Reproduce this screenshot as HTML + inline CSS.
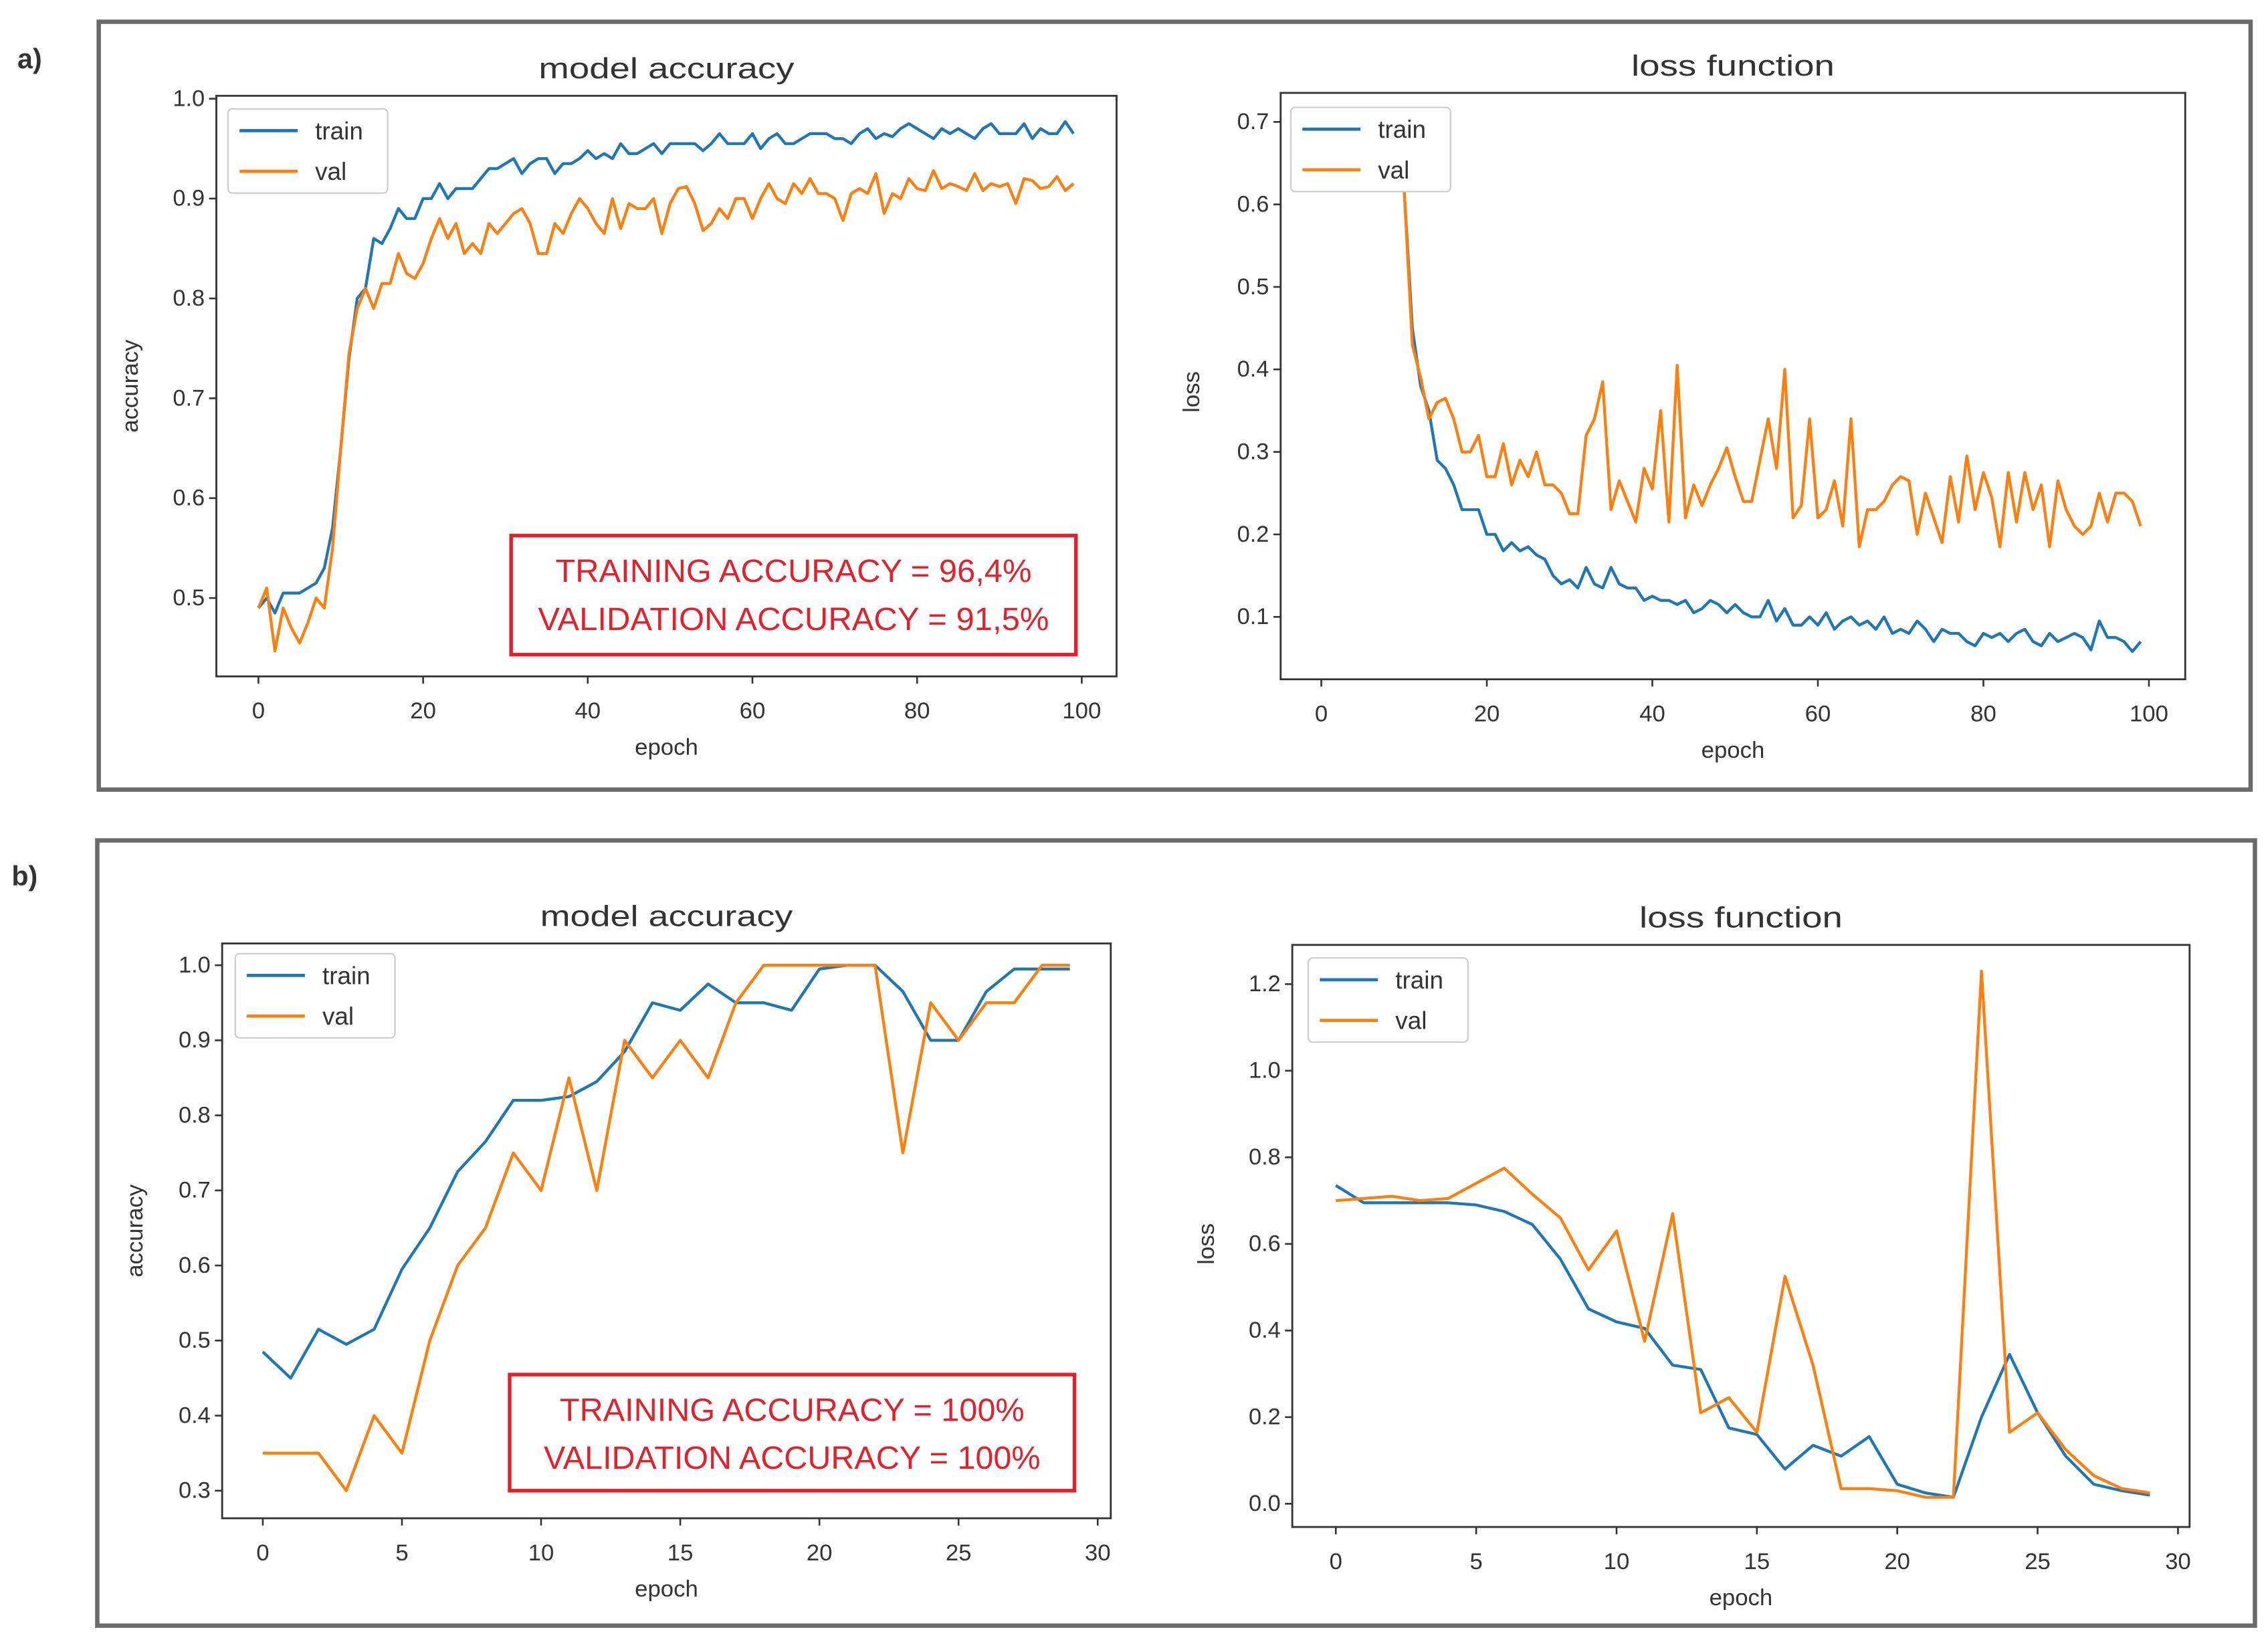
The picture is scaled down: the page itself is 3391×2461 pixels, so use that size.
<!DOCTYPE html>
<html><head><meta charset="utf-8"><style>
html,body{margin:0;padding:0;background:#fff;}
svg{display:block;}
text{font-family:"Liberation Sans",sans-serif;fill:#333;}
</style></head><body>
<svg id="fig" width="3391" height="2461" viewBox="0 0 1562 1134" preserveAspectRatio="none" xmlns="http://www.w3.org/2000/svg">
<rect x="68" y="15" width="1482" height="529" fill="none" stroke="#6a6a6a" stroke-width="3"/>
<rect x="67" y="579" width="1486" height="541" fill="none" stroke="#6a6a6a" stroke-width="3"/>
<text x="12" y="47" font-size="19" font-weight="bold" fill="#555">a)</text>
<text x="8" y="610" font-size="19" font-weight="bold" fill="#555">b)</text>
</svg>
<script>
// ---- data: panel a, model accuracy (epochs 0..99 by index)
const aAccTrain=[0.49,0.50,0.485,0.505,0.505,0.505,0.51,0.515,0.53,0.57,0.65,0.74,0.80,0.81,0.86,0.855,0.87,0.89,0.88,0.88,0.90,0.90,0.915,0.90,0.91,0.91,0.91,0.92,0.93,0.93,0.935,0.94,0.925,0.935,0.94,0.94,0.925,0.935,0.935,0.94,0.948,0.94,0.945,0.94,0.955,0.945,0.945,0.95,0.955,0.945,0.955,0.955,0.955,0.955,0.948,0.955,0.965,0.955,0.955,0.955,0.965,0.95,0.96,0.965,0.955,0.955,0.96,0.965,0.965,0.965,0.96,0.96,0.955,0.965,0.97,0.96,0.965,0.962,0.97,0.975,0.97,0.965,0.96,0.97,0.965,0.97,0.965,0.96,0.97,0.975,0.965,0.965,0.965,0.975,0.96,0.97,0.965,0.965,0.977,0.965];
const aAccVal=[0.49,0.51,0.447,0.49,0.47,0.455,0.475,0.50,0.49,0.55,0.65,0.745,0.79,0.81,0.79,0.815,0.815,0.845,0.825,0.82,0.835,0.86,0.88,0.86,0.875,0.845,0.855,0.845,0.875,0.865,0.875,0.885,0.89,0.875,0.845,0.845,0.875,0.865,0.885,0.90,0.89,0.875,0.865,0.90,0.87,0.895,0.89,0.89,0.90,0.865,0.895,0.91,0.912,0.895,0.868,0.875,0.89,0.88,0.90,0.90,0.88,0.90,0.915,0.90,0.895,0.915,0.905,0.92,0.905,0.905,0.90,0.878,0.905,0.91,0.905,0.925,0.885,0.905,0.90,0.92,0.91,0.908,0.928,0.91,0.915,0.912,0.908,0.925,0.908,0.915,0.912,0.915,0.895,0.92,0.918,0.91,0.912,0.922,0.908,0.915];
// ---- data: panel a, loss
const aLossTrain=[0.693,0.693,0.693,0.693,0.693,0.693,0.693,0.693,0.693,0.693,0.62,0.45,0.38,0.35,0.29,0.28,0.26,0.23,0.23,0.23,0.20,0.20,0.18,0.19,0.18,0.185,0.175,0.17,0.15,0.14,0.145,0.135,0.16,0.14,0.135,0.16,0.14,0.135,0.135,0.12,0.125,0.12,0.12,0.115,0.12,0.105,0.11,0.12,0.115,0.105,0.115,0.105,0.10,0.10,0.12,0.095,0.11,0.09,0.09,0.10,0.09,0.105,0.085,0.095,0.10,0.09,0.095,0.085,0.10,0.08,0.085,0.08,0.095,0.085,0.07,0.085,0.08,0.08,0.07,0.065,0.08,0.075,0.08,0.07,0.08,0.085,0.07,0.065,0.08,0.07,0.075,0.08,0.075,0.06,0.095,0.075,0.075,0.07,0.058,0.07];
const aLossVal=[0.70,0.70,0.70,0.70,0.70,0.70,0.70,0.70,0.70,0.70,0.62,0.43,0.39,0.34,0.36,0.365,0.34,0.30,0.30,0.32,0.27,0.27,0.31,0.26,0.29,0.27,0.30,0.26,0.26,0.25,0.225,0.225,0.32,0.34,0.385,0.23,0.265,0.24,0.215,0.28,0.255,0.35,0.215,0.405,0.22,0.26,0.235,0.26,0.28,0.305,0.27,0.24,0.24,0.29,0.34,0.28,0.40,0.22,0.235,0.34,0.22,0.23,0.265,0.21,0.34,0.185,0.23,0.23,0.24,0.26,0.27,0.265,0.20,0.25,0.22,0.19,0.27,0.215,0.295,0.23,0.275,0.245,0.185,0.275,0.215,0.275,0.23,0.26,0.185,0.265,0.23,0.21,0.20,0.21,0.25,0.215,0.25,0.25,0.24,0.21];
// ---- data: panel b (epochs 0..29 by index)
const bAccTrain=[0.485,0.45,0.515,0.495,0.515,0.595,0.65,0.725,0.765,0.82,0.82,0.825,0.845,0.885,0.95,0.94,0.975,0.95,0.95,0.94,0.995,1.0,1.0,0.965,0.90,0.90,0.965,0.995,0.995,0.995];
const bAccVal=[0.35,0.35,0.35,0.30,0.40,0.35,0.50,0.60,0.65,0.75,0.70,0.85,0.70,0.90,0.85,0.90,0.85,0.95,1.0,1.0,1.0,1.0,1.0,0.75,0.95,0.90,0.95,0.95,1.0,1.0];
const bLossTrain=[0.735,0.695,0.695,0.695,0.695,0.69,0.675,0.645,0.565,0.45,0.42,0.405,0.32,0.31,0.175,0.16,0.08,0.135,0.11,0.155,0.045,0.025,0.015,0.2,0.345,0.21,0.11,0.045,0.03,0.02];
const bLossVal=[0.70,0.705,0.71,0.70,0.705,0.74,0.775,0.715,0.66,0.54,0.63,0.375,0.67,0.21,0.245,0.165,0.525,0.32,0.035,0.035,0.03,0.015,0.015,1.23,0.165,0.21,0.125,0.065,0.035,0.025];
// ---- tick labels
const aAccYTicks=[0.5,0.6,0.7,0.8,0.9,1.0];
const aLossYTicks=[0.1,0.2,0.3,0.4,0.5,0.6,0.7];
const aXTicks=[0,20,40,60,80,100];
const bAccYTicks=[0.3,0.4,0.5,0.6,0.7,0.8,0.9,1.0];
const bLossYTicks=[0.0,0.2,0.4,0.6,0.8,1.0,1.2];
const bXTicks=[0,5,10,15,20,25,30];

const NS="http://www.w3.org/2000/svg";
const svg=document.getElementById('fig');
function mk(tag,attrs,parent){const e=document.createElementNS(NS,tag);for(const k in attrs)e.setAttribute(k,attrs[k]);(parent||svg).appendChild(e);return e;}

function chart(c){
  const g=mk('g',{});
  
  
  const sx=v=>c.x0px+(v-c.x0v)*(c.x1px-c.x0px)/(c.x1v-c.x0v);
  const sy=v=>c.y0px+(v-c.y0v)*(c.y1px-c.y0px)/(c.y1v-c.y0v);
  const t=mk('text',{x:(c.L+c.R)/2,y:c.T-12,'font-size':20,'text-anchor':'middle',textLength:c.titleW,lengthAdjust:'spacingAndGlyphs'},g);
  t.textContent=c.title;
  
  
  const cid='clip'+c.name;
  const cp=mk('clipPath',{id:cid},g);mk('rect',{x:c.L,y:c.T,width:c.R-c.L,height:c.B-c.T},cp);
  const series=[[c.train,'#1f77b4','train-line'],[c.val,'#ff7f0e','val-line']];
  for(const s of series){
    const d=s[0].map((v,i)=>(i?'L':'M')+sx(i).toFixed(2)+' '+sy(v).toFixed(2)).join(' ');
    const p=mk('path',{d:d,fill:'none',stroke:s[1],'stroke-width':2,'stroke-linejoin':'round','clip-path':'url(#'+cid+')'},g);
    
    
  }
  const f=mk('rect',{x:c.L,y:c.T,width:c.R-c.L,height:c.B-c.T,fill:'none',stroke:'#333','stroke-width':1.3},g);
  
  
  for(const v of c.yTicks){
    const y=sy(v);
    mk('line',{x1:c.L-5,x2:c.L,y1:y,y2:y,stroke:'#333','stroke-width':1.2},g);
    const tl=mk('text',{x:c.L-8,y:y+5,'font-size':16,'text-anchor':'end',textLength:c.yLabW,lengthAdjust:'spacingAndGlyphs'},g);
    tl.textContent=v.toFixed(1);
    
    
  }
  for(const v of c.xTicks){
    const x=sx(v);
    mk('line',{x1:x,x2:x,y1:c.B,y2:c.B+5,stroke:'#333','stroke-width':1.2},g);
    const tl=mk('text',{x:x,y:c.B+29,'font-size':16,'text-anchor':'middle'},g);
    tl.textContent=String(v);
    
    
  }
  const xl=mk('text',{x:(c.L+c.R)/2,y:c.B+54,'font-size':16,'text-anchor':'middle'},g);
  xl.textContent='epoch';
  
  
  const yl=mk('text',{x:0,y:0,'font-size':16,'text-anchor':'middle',transform:'translate('+c.ylabX+','+c.ylabY+') rotate(-90)'},g);
  yl.textContent=c.ylab;
  
  
  const lg=mk('g',{},g);
  
  
  mk('rect',{x:c.lgX,y:c.lgY,width:110,height:58,rx:3,fill:'#fff',stroke:'#ccc','stroke-width':1},lg);
  [['train','#1f77b4'],['val','#ff7f0e']].forEach((e,i)=>{
    const yy=c.lgY+15+i*28;
    mk('line',{x1:c.lgX+8,x2:c.lgX+48,y1:yy,y2:yy,stroke:e[1],'stroke-width':2.2},lg);
    const lt=mk('text',{x:c.lgX+60,y:yy+6,'font-size':17},lg);
    lt.textContent=e[0];
    
    
  });
  if(c.note){
    const nb=mk('g',{},g);
    
    
    mk('rect',{x:c.note.x,y:c.note.y,width:c.note.w,height:c.note.h,fill:'#fff',stroke:'#e3202c','stroke-width':2.5},nb);
    c.note.lines.forEach((s,i)=>{
      const nt=mk('text',{x:c.note.x+c.note.w/2,y:c.note.y+32+i*33,'font-size':22,'text-anchor':'middle',style:'fill:#e3202c',textLength:c.note.tw[i],lengthAdjust:'spacingAndGlyphs'},nb);
      nt.textContent=s;
      
      
    });
  }
}

chart({name:'a-accuracy-chart',title:'model accuracy',titleW:176,L:149,T:66,R:769,B:466,
  x0v:0,x0px:178,x1v:100,x1px:745,y0v:0.5,y0px:412,y1v:1.0,y1px:68,
  train:aAccTrain,val:aAccVal,yTicks:aAccYTicks,xTicks:aXTicks,yLabW:22,
  ylab:'accuracy',ylabX:95,ylabY:266,lgX:157,lgY:75,
  note:{x:352,y:369,w:389,h:82,lines:['TRAINING ACCURACY = 96,4%','VALIDATION ACCURACY = 91,5%'],tw:[328,352]}});
chart({name:'a-loss-chart',title:'loss function',titleW:140,L:882,T:64,R:1505,B:468,
  x0v:0,x0px:910,x1v:100,x1px:1480,y0v:0.1,y0px:425,y1v:0.7,y1px:84,
  train:aLossTrain,val:aLossVal,yTicks:aLossYTicks,xTicks:aXTicks,yLabW:22,
  ylab:'loss',ylabX:826,ylabY:270,lgX:889,lgY:74});
chart({name:'b-accuracy-chart',title:'model accuracy',titleW:174,L:153,T:650,R:765,B:1046,
  x0v:0,x0px:181,x1v:30,x1px:756,y0v:0.3,y0px:1027,y1v:1.0,y1px:665,
  train:bAccTrain,val:bAccVal,yTicks:bAccYTicks,xTicks:bXTicks,yLabW:22,
  ylab:'accuracy',ylabX:98,ylabY:848,lgX:162,lgY:657,
  note:{x:351,y:947,w:389,h:80,lines:['TRAINING ACCURACY = 100%','VALIDATION ACCURACY = 100%'],tw:[320,342]}});
chart({name:'b-loss-chart',title:'loss function',titleW:140,L:890,T:651,R:1508,B:1052,
  x0v:0,x0px:920,x1v:30,x1px:1500,y0v:0.0,y0px:1036,y1v:1.2,y1px:678,
  train:bLossTrain,val:bLossVal,yTicks:bLossYTicks,xTicks:bXTicks,yLabW:22,
  ylab:'loss',ylabX:836,ylabY:857,lgX:901,lgY:660});
</script>
</body></html>
